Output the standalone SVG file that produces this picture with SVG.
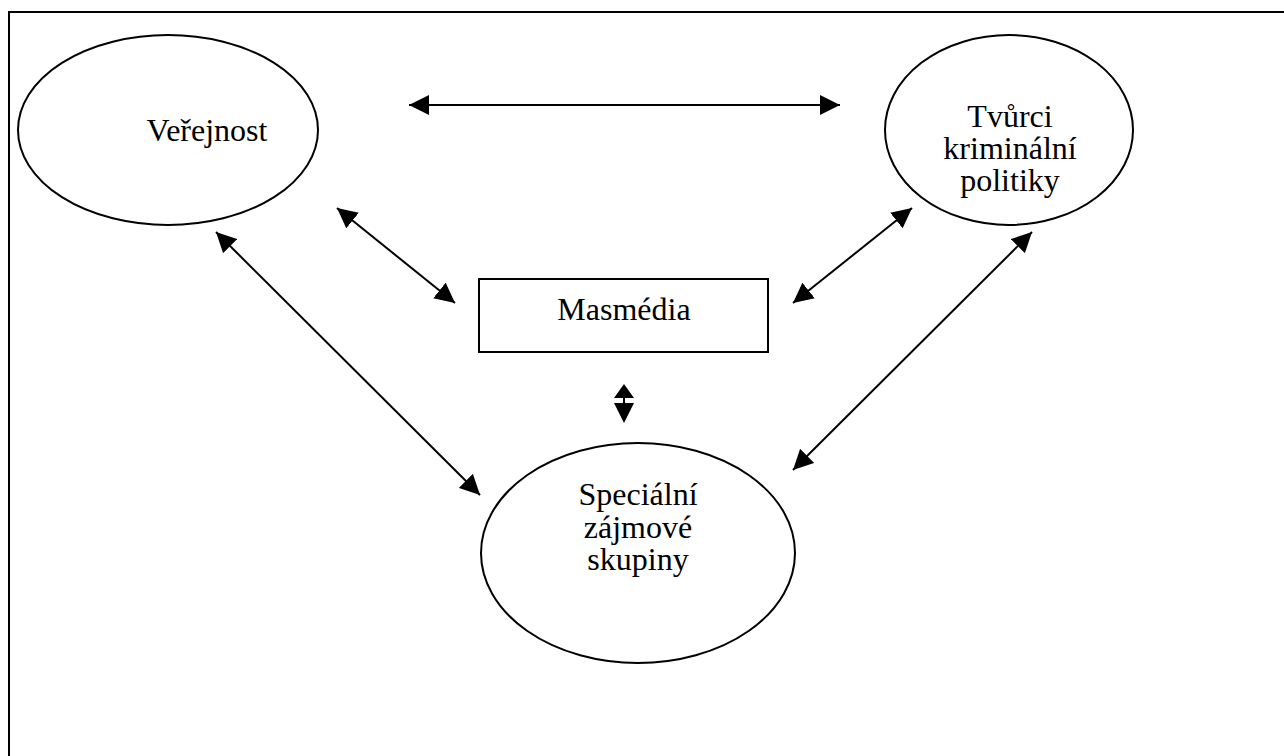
<svg xmlns="http://www.w3.org/2000/svg" width="1284" height="756" viewBox="0 0 1284 756">
<defs>
<style>
.node{fill:#fff;stroke:#000;stroke-width:2}
.lbl{font-family:"Liberation Serif","Times New Roman",serif;font-size:32px;fill:#000;text-anchor:middle}
.con line{stroke:#000;stroke-width:2}
.head{fill:#000}
</style>
<marker id="ah" markerUnits="userSpaceOnUse" markerWidth="20" markerHeight="20" refX="20" refY="10" orient="auto-start-reverse" viewBox="0 0 20 20">
<path d="M0,0 L20,10 L0,20 z" fill="#000"/>
</marker>
</defs>
<rect width="1284" height="756" fill="#fff"/>
<path d="M9,760 V12 H1290" fill="none" stroke="#000" stroke-width="2"/>
<g id="verejnost">
<ellipse class="node" cx="168" cy="130" rx="150" ry="95"/>
<text class="lbl" x="207" y="141">Veřejnost</text>
</g>
<g id="tvurci">
<ellipse class="node" cx="1009" cy="130" rx="124" ry="95"/>
<text class="lbl" x="1010" y="127">Tvůrci</text>
<text class="lbl" x="1010" y="159">kriminální</text>
<text class="lbl" x="1010" y="191">politiky</text>
</g>
<g id="masmedia">
<rect class="node" x="479" y="279" width="289" height="73"/>
<text class="lbl" x="624" y="320">Masmédia</text>
</g>
<g id="specialni">
<ellipse class="node" cx="638" cy="553" rx="157" ry="110"/>
<text class="lbl" x="638" y="505">Speciální</text>
<text class="lbl" x="638" y="538">zájmové</text>
<text class="lbl" x="638" y="570">skupiny</text>
</g>
<g id="connectors" class="con">
<line x1="409" y1="105" x2="840" y2="105" marker-start="url(#ah)" marker-end="url(#ah)"/>
<line x1="337" y1="208" x2="455" y2="303" marker-start="url(#ah)" marker-end="url(#ah)"/>
<line x1="216" y1="232" x2="480" y2="495" marker-start="url(#ah)" marker-end="url(#ah)"/>
<line x1="912" y1="208" x2="793" y2="303" marker-start="url(#ah)" marker-end="url(#ah)"/>
<line x1="1032" y1="232" x2="793" y2="470" marker-start="url(#ah)" marker-end="url(#ah)"/>
<polygon class="head" points="624,384 614,398 634,398"/>
<line x1="624" y1="398" x2="624" y2="403"/>
<polygon class="head" points="614,403 634,403 624,423"/>
</g>
</svg>
